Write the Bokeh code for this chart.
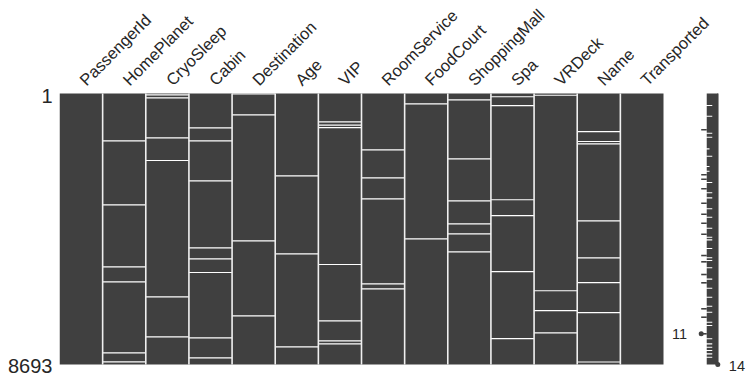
import math
from bokeh.plotting import figure
from bokeh.models import Range1d, FixedTicker
from bokeh.core.properties import value
from bokeh.embed import file_html
from bokeh.resources import INLINE

# ---------------- data ----------------
columns = ["PassengerId", "HomePlanet", "CryoSleep", "Cabin", "Destination", "Age", "VIP",
           "RoomService", "FoodCourt", "ShoppingMall", "Spa", "VRDeck", "Name", "Transported"]
n_rows = 8693
row_tick_labels = ["1", "8693"]

# rows (0-based) that show up as missing (white lines) in each column
miss_PassengerId = []
miss_HomePlanet = [1517, 3570, 5559, 6040, 8318, 8607]
miss_CryoSleep = [42, 138, 1421, 2149, 6521, 7805]
miss_Cabin = [1100, 1517, 2800, 4950, 5302, 5742, 7837, 8478]
miss_Destination = [16, 683, 4725, 7131]
miss_Age = [2640, 5142, 8125]
miss_VIP = [908, 1017, 1091, 5485, 7291, 7933, 8029]
miss_RoomService = [1806, 2704, 3378, 6104, 6265]
miss_FoodCourt = [330, 4661]
miss_ShoppingMall = [202, 2095, 3442, 4180, 4501, 5078]
miss_Spa = [103, 391, 3407, 3920, 5716, 7865]
miss_VRDeck = [55, 6326, 6967, 7676]
miss_Name = [1225, 1540, 1613, 4083, 5270, 6069, 7031, 8613]
miss_Transported = []

# sparkline (row completeness)
spark_min, spark_max = 11, 14
spark_min_row, spark_max_row = 7708, 8692
spark_band_low = 12
spark_rows_11 = [1164, 2608, 2749, 3057, 3519, 3872, 4161, 4513, 5197, 5399, 5806,
                 6072, 6906, 7176, 7708]
spark_rows_13 = [385, 728, 1273, 1402, 2011, 2855, 3185, 3346, 3698, 3968, 4321, 4609,
                 4693, 4972, 5270, 5357, 5591, 5955, 6245, 6534, 6823, 7015, 7336, 7442,
                 7868, 8029, 8138, 8244, 8350, 8459]
spark_rows_125 = [1774, 2342, 2492]

missing = [miss_PassengerId, miss_HomePlanet, miss_CryoSleep, miss_Cabin, miss_Destination,
           miss_Age, miss_VIP, miss_RoomService, miss_FoodCourt, miss_ShoppingMall, miss_Spa,
           miss_VRDeck, miss_Name, miss_Transported]

# ---------------- layout (pixels) ----------------
DARK = "#404040"
TXT = "#262626"
FONT = "Liberation Sans"
fig_w, fig_h = 751, 383
border_left = 59
frame_w = fig_w - border_left
frame_h = fig_h
mat_top_px = 93          # matrix top below frame top
mat_h_px = 271
mat_w_px = 604
col_px = mat_w_px / len(columns)
rpp = n_rows / mat_h_px  # rows per pixel

x_start = -0.5
x_end = x_start + frame_w / col_px
y_top = -0.5 - mat_top_px * rpp
y_bot = (n_rows - 0.5) + (frame_h - mat_top_px - mat_h_px) * rpp

spark_ppu = 5.53
spark_anchor = 641.7     # px of value 11 from frame left
s_start = spark_min - spark_anchor / spark_ppu
s_end = s_start + frame_w / spark_ppu

p = figure(width=fig_w, height=fig_h, output_backend="svg", toolbar_location=None,
           x_range=Range1d(x_start, x_end), y_range=Range1d(y_bot, y_top),
           x_axis_location=None, min_border_left=border_left, min_border_right=0,
           min_border_top=0, min_border_bottom=0)
p.extra_x_ranges = {"spark": Range1d(s_start, s_end)}
p.grid.visible = False
p.outline_line_color = None
p.background_fill_color = "white"
p.border_fill_color = "white"

ncol = len(columns)
idx = list(range(ncol))
# matrix columns
p.quad(left=[i - 0.5 for i in idx], right=[i + 0.5 for i in idx],
       top=[-0.5] * ncol, bottom=[n_rows - 0.5] * ncol,
       fill_color=DARK, line_color=None)
# missing rows
x0s, x1s, ys = [], [], []
for i, rows in enumerate(missing):
    for r in rows:
        x0s.append(i - 0.5); x1s.append(i + 0.5); ys.append(r)
p.segment(x0=x0s, x1=x1s, y0=ys, y1=ys, line_color="white", line_width=1.2)
# separators
seps = [i + 0.5 for i in range(ncol - 1)]
p.segment(x0=seps, x1=seps, y0=[-0.5] * len(seps), y1=[n_rows - 0.5] * len(seps),
          line_color="#f0f0f0", line_width=1.6)

# column labels
lab_dx = 1.3 / col_px
lab_y = -0.5 - 11 * rpp
p.text(x=[i + lab_dx for i in idx], y=[lab_y] * ncol, text=columns,
       angle=math.pi / 4, text_align="left", text_baseline="alphabetic",
       text_font=value(FONT), text_font_size="16.5px", text_color=TXT)

# sparkline envelope
events = sorted([(r, 13.0) for r in spark_rows_13] + [(r, 12.5) for r in spark_rows_125])
half = 18
ey, ex = [0], [spark_band_low]
for r, lo in events:
    ey += [r - half, r - half, r + half, r + half]
    ex += [spark_band_low, lo, lo, spark_band_low]
ey.append(n_rows - 1); ex.append(spark_band_low)
p.harea(x1=ex, x2=[spark_max] * len(ex), y=ey, fill_color=DARK, x_range_name="spark")
p.segment(x0=[spark_max], x1=[spark_max], y0=[0], y1=[n_rows - 1], line_color=DARK,
          line_width=1.5, x_range_name="spark")
p.segment(x0=[spark_min] * len(spark_rows_11), x1=[spark_band_low] * len(spark_rows_11),
          y0=spark_rows_11, y1=spark_rows_11, line_color=DARK, line_width=1.6,
          x_range_name="spark")
p.scatter(x=[spark_min, spark_max], y=[spark_min_row, spark_max_row], size=5,
          fill_color=DARK, line_color=None, x_range_name="spark")
p.text(x=[spark_min - 2], y=[spark_min_row], text=[str(spark_min)], text_align="right",
       text_baseline="middle", text_font=value(FONT), text_font_size="14.5px",
       text_color=TXT, x_offset=-3, x_range_name="spark")
p.text(x=[spark_max + 2], y=[spark_max_row], text=[str(spark_max)], text_align="left",
       text_baseline="middle", text_font=value(FONT), text_font_size="14.5px",
       text_color=TXT, y_offset=2, x_range_name="spark")

# y axis (labels sit ~2px below the row they name, as in the reference)
lab_shift = 2 * rpp
t0, t1 = 0 + lab_shift, (n_rows - 1) + lab_shift
ya = p.yaxis[0]
ya.ticker = FixedTicker(ticks=[t0, t1])
ya.major_label_overrides = {t0: row_tick_labels[0], t1: row_tick_labels[1]}
ya.axis_line_color = None
ya.major_tick_line_color = None
ya.minor_tick_line_color = None
ya.major_tick_out = 0
ya.major_tick_in = 0
ya.major_label_standoff = 7
ya.major_label_text_font = FONT
ya.major_label_text_font_size = "20px"
ya.major_label_text_color = TXT

open("out.html", "w").write(file_html(p, INLINE))
